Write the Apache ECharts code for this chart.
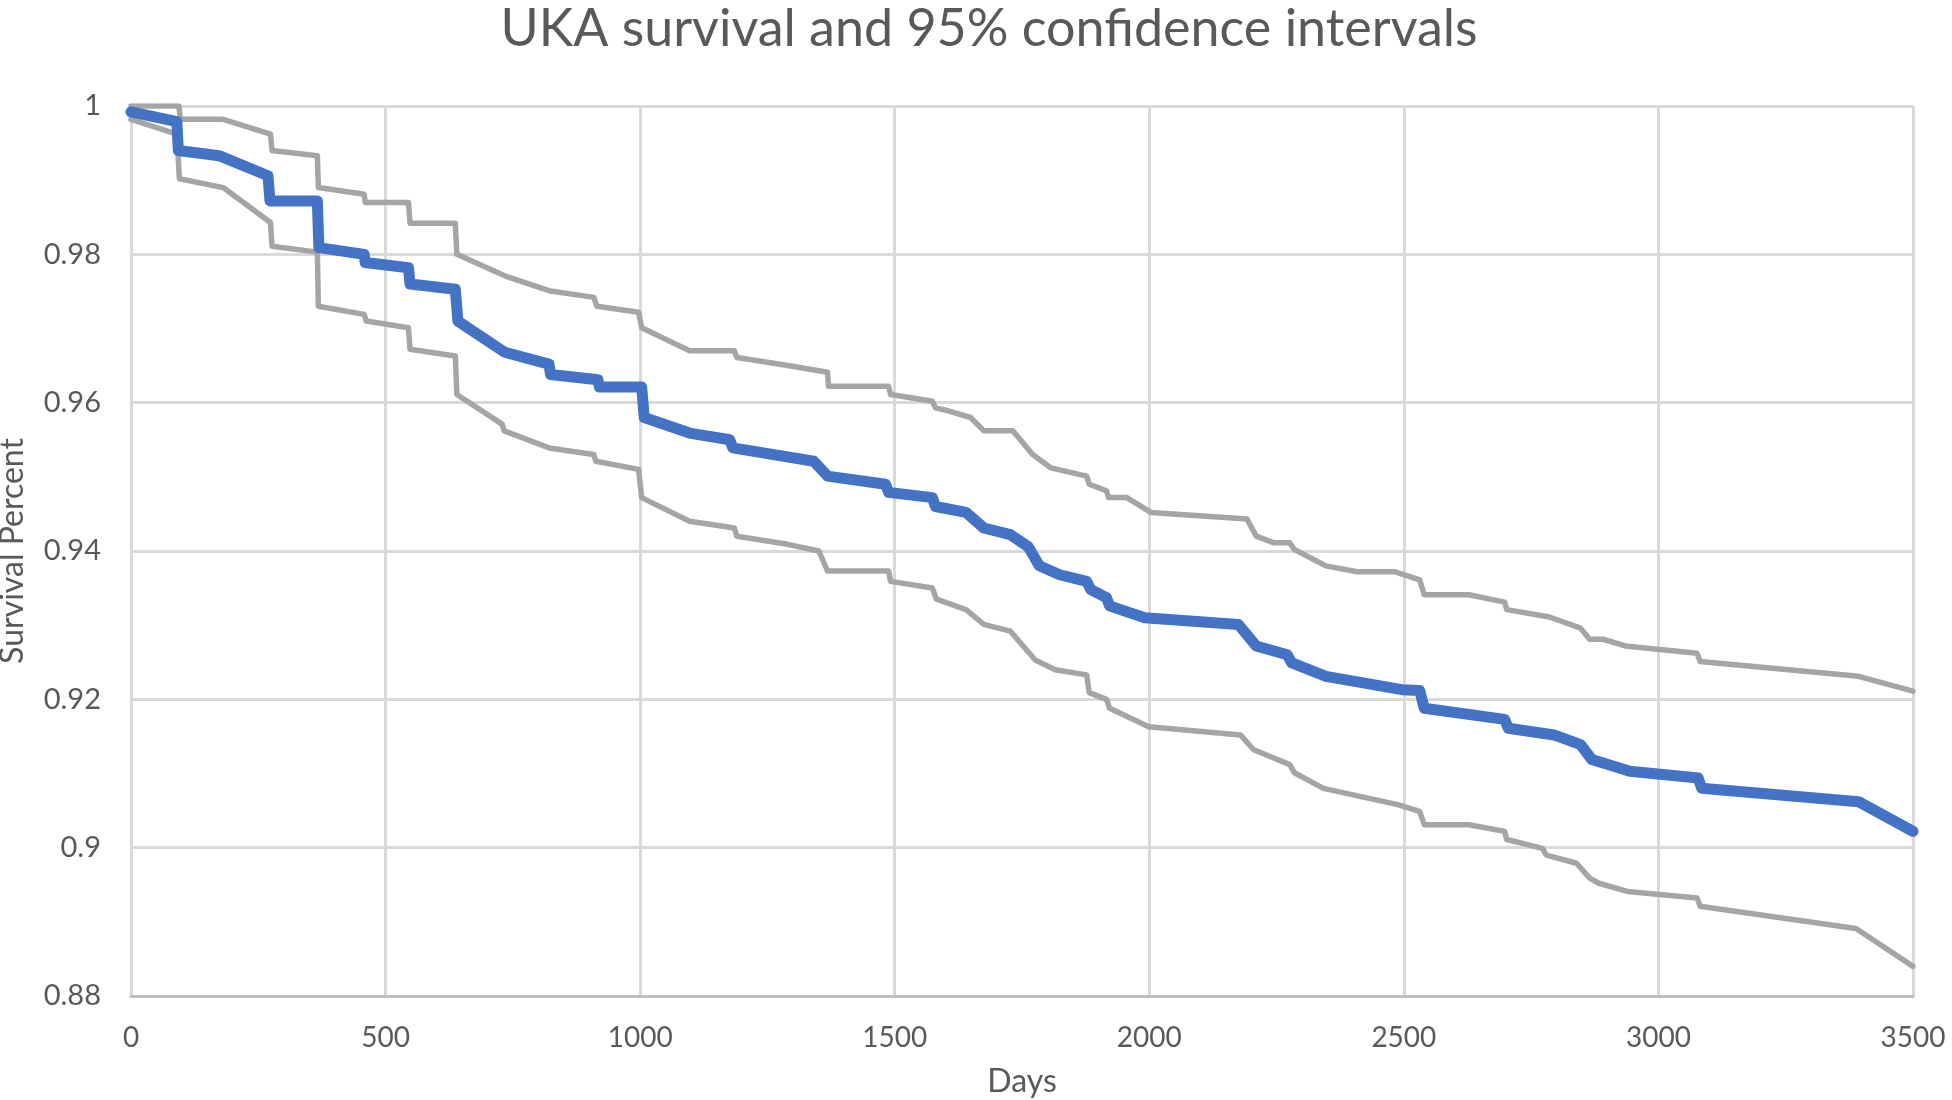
<!DOCTYPE html>
<html>
<head>
<meta charset="utf-8">
<script src="https://cdn.jsdelivr.net/npm/echarts@6/dist/echarts.min.js"></script>
<style>
html,body{margin:0;padding:0;background:#fff;}
#chart{width:1952px;height:1100px;}
</style>
</head>
<body>
<div id="chart"></div>
<script>
// Kaplan-Meier survival estimate: [days, survival]
const survival = [
  [0,0.9992],[90,0.9979],[93,0.9940],[173,0.9933],[269,0.9906],[273,0.9872],[366,0.9872],[369,0.9809],
  [458,0.9800],[460,0.9789],[545,0.9782],[548,0.9760],[637,0.9753],[642,0.9710],[734,0.9668],[821,0.9652],
  [824,0.9638],[917,0.9631],[920,0.9621],[1003,0.9621],[1008,0.9580],[1097,0.9559],[1176,0.9550],[1182,0.9539],
  [1341,0.9521],[1368,0.9501],[1482,0.9490],[1488,0.9479],[1574,0.9472],[1580,0.9460],[1640,0.9452],[1675,0.9431],
  [1727,0.9422],[1762,0.9406],[1784,0.9380],[1824,0.9368],[1877,0.9359],[1885,0.9348],[1916,0.9337],[1922,0.9326],
  [1991,0.9310],[2175,0.9301],[2210,0.9272],[2271,0.9260],[2280,0.9249],[2347,0.9231],[2496,0.9213],[2531,0.9212],
  [2540,0.9188],[2698,0.9173],[2705,0.9161],[2795,0.9152],[2847,0.9139],[2869,0.9119],[2944,0.9103],[3078,0.9094],
  [3085,0.9080],[3393,0.9062],[3500,0.9022]
];
// Upper 95% confidence bound
const upperCI = [
  [0,1.0],[94,1.0],[97,0.9982],[181,0.9982],[274,0.9962],[277,0.9940],[366,0.9933],[368,0.9890],
  [458,0.9881],[460,0.9870],[545,0.9870],[548,0.9842],[637,0.9842],[640,0.9800],[734,0.9771],[821,0.9751],
  [909,0.9742],[915,0.9730],[997,0.9722],[1003,0.9701],[1097,0.9670],[1185,0.9670],[1190,0.9661],[1290,0.9650],
  [1368,0.9641],[1370,0.9622],[1488,0.9622],[1492,0.9611],[1574,0.9602],[1580,0.9593],[1600,0.9590],[1649,0.9580],
  [1675,0.9562],[1732,0.9562],[1771,0.9530],[1807,0.9512],[1877,0.9501],[1882,0.9490],[1916,0.9481],[1920,0.9472],
  [1956,0.9472],[2003,0.9452],[2192,0.9443],[2210,0.9420],[2245,0.9411],[2276,0.9411],[2285,0.9402],[2347,0.9380],
  [2408,0.9372],[2483,0.9372],[2531,0.9361],[2540,0.9341],[2628,0.9341],[2698,0.9331],[2702,0.9321],[2786,0.9311],
  [2847,0.9296],[2865,0.9281],[2891,0.9281],[2935,0.9272],[3076,0.9262],[3082,0.9251],[3393,0.9231],[3500,0.9211]
];
// Lower 95% confidence bound
const lowerCI = [
  [0,0.9982],[90,0.9962],[95,0.9902],[181,0.9890],[274,0.9843],[277,0.9811],[366,0.9803],[368,0.9730],
  [458,0.9719],[462,0.9710],[545,0.9701],[548,0.9672],[637,0.9663],[640,0.9611],[729,0.9571],[733,0.9562],
  [821,0.9539],[909,0.9530],[913,0.9521],[997,0.9510],[1003,0.9472],[1097,0.9440],[1185,0.9431],[1190,0.9420],
  [1290,0.9409],[1351,0.9400],[1368,0.9373],[1488,0.9373],[1492,0.9359],[1574,0.9350],[1582,0.9335],[1640,0.9321],
  [1675,0.9301],[1727,0.9292],[1776,0.9253],[1815,0.9240],[1877,0.9233],[1882,0.9209],[1916,0.9200],[1922,0.9188],
  [1999,0.9163],[2179,0.9152],[2205,0.9132],[2276,0.9112],[2285,0.9101],[2342,0.9080],[2488,0.9058],[2531,0.9049],
  [2540,0.9031],[2628,0.9031],[2698,0.9022],[2702,0.9011],[2772,0.8999],[2780,0.8990],[2839,0.8979],[2865,0.8959],
  [2883,0.8952],[2939,0.8941],[3076,0.8932],[3082,0.8921],[3388,0.8891],[3500,0.8840]
];
const titleText = 'UKA survival and 95% confidence intervals';
const xName = 'Days';
const yName = 'Survival Percent';

const FONT = 'Lato';
const TXT = '#595959';
const chart = echarts.init(document.getElementById('chart'), null, {renderer: 'canvas'});
chart.setOption({
  backgroundColor: '#ffffff',
  animation: false,
  title: {
    text: titleText,
    left: 989,
    textAlign: 'center',
    top: 3,
    padding: 0,
    textStyle: {fontFamily: FONT, fontSize: 52, fontWeight: 'normal', color: TXT}
  },
  grid: {left: 131, right: 39, top: 106, bottom: 104, containLabel: false, outerBoundsMode: 'none'},
  xAxis: {
    type: 'value', min: 0, max: 3500, interval: 500,
    name: xName, nameLocation: 'middle', nameGap: 70,
    nameTextStyle: {fontFamily: FONT, fontSize: 32, color: TXT},
    axisLine: {show: true, lineStyle: {color: '#BFBFBF', width: 3}},
    axisTick: {show: false},
    axisLabel: {fontFamily: FONT, fontSize: 28, color: TXT, margin: 28,
      formatter: function (v) { return String(v); }},
    splitLine: {show: true, lineStyle: {color: '#D9D9D9', width: 3}}
  },
  yAxis: {
    type: 'value', min: 0.88, max: 1, interval: 0.02,
    name: yName, nameLocation: 'middle', nameGap: 102, nameRotate: 90,
    nameTextStyle: {fontFamily: FONT, fontSize: 32, color: TXT},
    axisLine: {show: false},
    axisTick: {show: false},
    axisLabel: {fontFamily: FONT, fontSize: 29, color: TXT, margin: 30,
      formatter: function (v) { return String(Math.round(v * 100) / 100); }},
    splitLine: {show: true, lineStyle: {color: '#D9D9D9', width: 3}}
  },
  series: [
    {name: 'Upper 95% CI', type: 'line', data: upperCI, showSymbol: false, symbol: 'none',
      lineStyle: {color: '#A5A5A5', width: 5.5, join: 'round', cap: 'round'}, z: 2},
    {name: 'Lower 95% CI', type: 'line', data: lowerCI, showSymbol: false, symbol: 'none',
      lineStyle: {color: '#A5A5A5', width: 5.5, join: 'round', cap: 'round'}, z: 2},
    {name: 'Survival', type: 'line', data: survival, showSymbol: false, symbol: 'none',
      lineStyle: {color: '#4472C4', width: 11, join: 'round', cap: 'round'}, z: 3}
  ]
});
</script>
</body>
</html>
